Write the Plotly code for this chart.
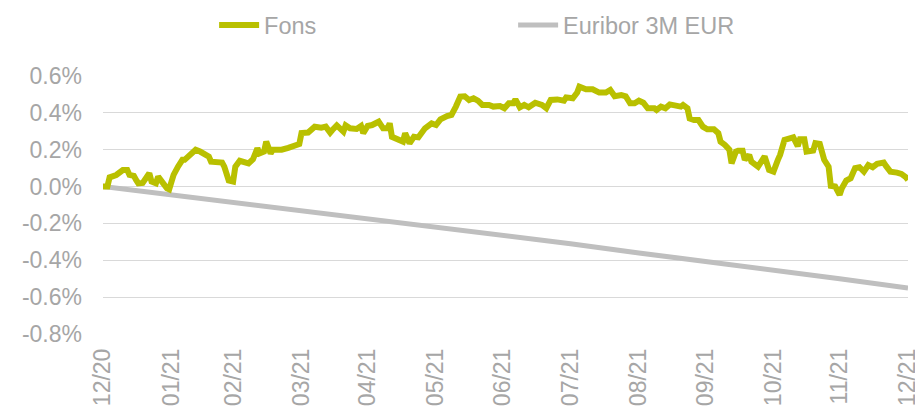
import pandas as pd
import plotly.graph_objects as go

start = pd.Timestamp("2020-12-31")

fons_day = [0, 2, 3, 4, 6, 9, 11, 12, 14, 15, 16, 18, 21, 22, 24, 25, 27, 29, 30, 32, 34, 36, 37, 40, 42, 44, 46, 48, 49,
            52, 54, 55, 57, 59, 60, 62, 64, 66, 68, 70, 71, 73, 74, 76, 77, 81, 84, 87, 89, 90, 93, 96, 99, 101, 103,
            104, 106, 109, 110, 112, 115, 117, 118, 120, 122, 125, 127, 129, 130, 131, 134, 136, 137, 139, 141, 143,
            146, 149, 151, 153, 156, 158, 160, 162, 164, 166, 168, 170, 172, 175, 177, 180, 182, 184, 186, 187, 189,
            191, 193, 196, 199, 201, 203, 206, 209, 210, 213, 215, 216, 219, 222, 225, 228, 230, 232, 235, 237, 239,
            241, 243, 245, 247, 250, 251, 253, 255, 257, 260, 262, 263, 265, 266, 268, 270, 272, 274, 277, 279, 280,
            282, 283, 284, 285, 287, 288, 290, 291, 293, 294, 297, 299, 300, 302, 304, 306, 307, 309, 311, 313, 315,
            316, 318, 319, 322, 323, 325, 327, 329, 330, 332, 334, 335, 337, 339, 341, 343, 345, 347, 349, 351, 354,
            355, 357, 360, 362, 364, 365]
fons_val = [0.0, 0.0, 0.05, 0.055, 0.063, 0.09, 0.09, 0.063, 0.058, 0.036, 0.018, 0.02, 0.072, 0.027, 0.018, 0.054,
            0.02, -0.01, -0.015, 0.063, 0.108, 0.145, 0.145, 0.18, 0.2, 0.19, 0.18, 0.163, 0.135, 0.13, 0.13, 0.108,
            0.033, 0.027, 0.108, 0.14, 0.135, 0.126, 0.148, 0.208, 0.18, 0.19, 0.244, 0.18, 0.2, 0.2, 0.21, 0.226,
            0.231, 0.29, 0.293, 0.325, 0.32, 0.325, 0.293, 0.307, 0.332, 0.298, 0.332, 0.316, 0.313, 0.329, 0.29,
            0.329, 0.334, 0.352, 0.316, 0.316, 0.343, 0.27, 0.25, 0.244, 0.29, 0.235, 0.27, 0.267, 0.316, 0.343,
            0.334, 0.365, 0.383, 0.389, 0.434, 0.488, 0.49, 0.47, 0.479, 0.466, 0.443, 0.443, 0.434, 0.437, 0.425,
            0.452, 0.452, 0.473, 0.43, 0.443, 0.43, 0.455, 0.443, 0.425, 0.47, 0.473, 0.466, 0.484, 0.479, 0.51,
            0.542, 0.528, 0.528, 0.51, 0.51, 0.524, 0.49, 0.497, 0.49, 0.452, 0.452, 0.466, 0.455, 0.425, 0.425,
            0.416, 0.434, 0.425, 0.446, 0.443, 0.434, 0.443, 0.425, 0.37, 0.361, 0.361, 0.325, 0.311, 0.311, 0.29,
            0.244, 0.226, 0.213, 0.2, 0.126, 0.19, 0.195, 0.195, 0.145, 0.172, 0.135, 0.108, 0.145, 0.163, 0.09,
            0.081, 0.145, 0.172, 0.253, 0.262, 0.267, 0.22, 0.257, 0.257, 0.19, 0.195, 0.235, 0.231, 0.145, 0.108,
            0.004, 0.0, -0.045, -0.009, 0.033, 0.045, 0.1, 0.105, 0.081, 0.117, 0.105, 0.123, 0.13, 0.112, 0.081,
            0.076, 0.069, 0.051, 0.036]

euribor_dates = ["2020-12-31", "2021-01-31", "2021-02-28", "2021-03-31", "2021-04-30", "2021-05-31", "2021-06-30",
                 "2021-07-31", "2021-08-31", "2021-09-30", "2021-10-31", "2021-11-30", "2021-12-31"]
euribor_val = [0.0, -0.045, -0.085, -0.13, -0.175, -0.22, -0.265, -0.31, -0.36, -0.405, -0.455, -0.5, -0.55]

x_tickvals = euribor_dates
x_ticktext = ["12/20", "01/21", "02/21", "03/21", "04/21", "05/21", "06/21", "07/21", "08/21", "09/21", "10/21",
              "11/21", "12/21"]
y_tickvals = [-0.8, -0.6, -0.4, -0.2, 0.0, 0.2, 0.4, 0.6]
y_ticktext = ["-0.8%", "-0.6%", "-0.4%", "-0.2%", "0.0%", "0.2%", "0.4%", "0.6%"]

fons_dates = [start + pd.Timedelta(days=d) for d in fons_day]

GREEN = "#B9C000"
GREY = "#BFBFBF"
TXT = "#A6A6A6"
FONT = "Liberation Sans, Arial, sans-serif"

fig = go.Figure()
fig.add_trace(go.Scatter(x=euribor_dates, y=euribor_val, mode="lines", name="Euribor 3M EUR",
                         line=dict(color=GREY, width=5), legendrank=2))
fig.add_trace(go.Scatter(x=fons_dates, y=fons_val, mode="lines", name="Fons",
                         line=dict(color=GREEN, width=6), legendrank=1))

fig.update_layout(
    width=915, height=406,
    margin=dict(l=103, r=7, t=76, b=72, autoexpand=False),
    paper_bgcolor="white", plot_bgcolor="white",
    font=dict(family=FONT, size=23, color=TXT),
    showlegend=True,
    legend=dict(orientation="h", xref="container", x=0.234, xanchor="left",
                yref="container", y=0.938, yanchor="middle",
                font=dict(size=23.5, color=TXT), entrywidth=244, entrywidthmode="pixels",
                itemwidth=40, bgcolor="rgba(0,0,0,0)"),
)
fig.update_xaxes(type="date", range=["2020-12-31", "2021-12-31"], tickvals=x_tickvals, ticktext=x_ticktext,
                 tickangle=-90, showgrid=False, zeroline=False, showline=False, automargin=False,
                 ticklabeloverflow="allow", ticklabelstandoff=9, tickfont=dict(size=23, color=TXT))
fig.update_yaxes(range=[-0.8, 0.6], tickvals=y_tickvals, ticktext=y_ticktext, showgrid=True,
                 gridcolor="#D9D9D9", gridwidth=1, zeroline=False, showline=False, automargin=False,
                 ticklabeloverflow="allow", ticklabelstandoff=20, tickfont=dict(size=23, color=TXT))

fig.write_html("out.html", config={"displayModeBar": False},
               post_script="document.body.style.margin='0';")
